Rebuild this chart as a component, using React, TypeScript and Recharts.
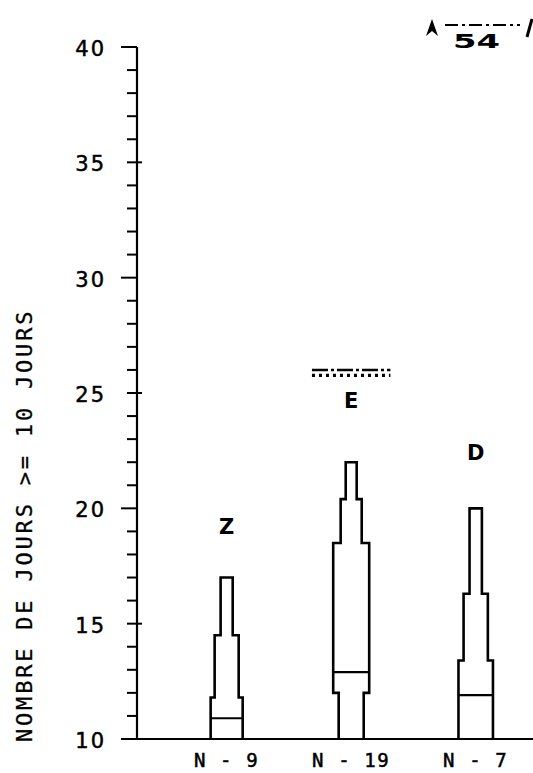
import React from 'react'
import { ComposedChart, Line, XAxis, YAxis, ReferenceLine, ReferenceDot } from 'recharts'

// groups shown along the bottom
const GROUPS = ['Z', 'E', 'D']
const GROUP_POS = [1, 2, 3]
const N_COUNTS = [9, 19, 7]

// step edges of each stepped box (days), from the axis floor up to the top
const Z_STEPS = [10, 11.8, 14.5, 17]
const E_STEPS = [10, 12, 18.5, 20.4, 22]
const D_STEPS = [10, 13.4, 16.3, 20]
const MEDIANS = [10.9, 12.9, 11.9]
const E_MARK = 26

const Y_TICKS = [10, 11, 12, 13, 14, 15, 16, 17, 18, 19, 20, 21, 22, 23, 24, 25,
    26, 27, 28, 29, 30, 31, 32, 33, 34, 35, 36, 37, 38, 39, 40]

// look: width of every step, in x-axis units
const Z_WIDTHS = [0.257, 0.193, 0.097]
const E_WIDTHS = [0.201, 0.289, 0.169, 0.088]
const D_WIDTHS = [0.277, 0.195, 0.099]
const MARK_WIDTH = 0.63
const LABEL_OFFSETS = [44, 54, 48]

const STEPS = [Z_STEPS, E_STEPS, D_STEPS]
const WIDTHS = [Z_WIDTHS, E_WIDTHS, D_WIDTHS]

const MONO = '"DejaVu Sans Mono", monospace'
const SANS = '"DejaVu Sans", sans-serif'

// outline of a stepped box: up the left side, across the top, down the right
const outline = (pos: number, steps: number[], widths: number[]) => {
    const left: { x: number, y: number }[] = []
    const right: { x: number, y: number }[] = []
    widths.forEach((w, i) => {
        left.push({ x: pos - w / 2, y: steps[i] }, { x: pos - w / 2, y: steps[i + 1] })
        right.unshift({ x: pos + w / 2, y: steps[i + 1] }, { x: pos + w / 2, y: steps[i] })
    })
    return [...left, ...right]
}

const medianWidth = (steps: number[], widths: number[], m: number) => {
    const i = steps.findIndex((s, k) => k < steps.length - 1 && m >= s && m < steps[k + 1])
    return widths[Math.max(i, 0)]
}

const YTick = (props: any) => {
    const { x, y, payload } = props
    const v = payload.value
    const major = v % 5 === 0
    const ten = v % 10 === 0
    return (
        <g>
            <line x1={ten ? x - 16 : x - 10} x2={major && !ten ? x + 5 : x} y1={y} y2={y} stroke="#000" strokeWidth={2} />
            {major && (
                <text x={x - 31} y={y + 2} textAnchor="end" dominantBaseline="central"
                    fontFamily={SANS} fontSize={21} letterSpacing={2} fill="#000"
                    stroke="#000" strokeWidth={0.5}>{v}</text>
            )}
        </g>
    )
}

const MarkShape = (props: any) => {
    const { x1, x2, y1 } = props
    return (
        <g>
            <line x1={x1} x2={x2} y1={y1} y2={y1} stroke="#000" strokeWidth={2.6} strokeDasharray="16 3 3 3" />
            <line x1={x1} x2={x2} y1={y1 + 5.5} y2={y1 + 5.5} stroke="#000" strokeWidth={3.2} strokeDasharray="3 4" />
        </g>
    )
}

const App = () => {
    return (
        <div style={{ position: 'absolute', left: 0, top: 0, width: 533, height: 773, background: '#fff' }}>
            <ComposedChart width={533} height={773} margin={{ top: 47, right: 0, bottom: 0, left: 0 }}>
                <XAxis type="number" dataKey="x" domain={[0.28, 3.46]} allowDataOverflow ticks={GROUP_POS}
                    tickFormatter={(v: number) => `N - ${N_COUNTS[GROUP_POS.indexOf(v)]}`}
                    height={34} tickLine={false} tickSize={0} tickMargin={15} interval={0}
                    axisLine={{ stroke: '#000', strokeWidth: 2.2 }}
                    tick={{ fill: '#000', stroke: '#000', strokeWidth: 0.5, fontSize: 19, fontFamily: MONO, letterSpacing: 1.6 }} />
                <YAxis type="number" domain={[10, 40]} ticks={Y_TICKS} interval={0} width={137}
                    tickLine={false} tickSize={0} tickMargin={0} tick={<YTick />}
                    axisLine={{ stroke: '#000', strokeWidth: 2.2 }} allowDataOverflow
                    label={{
                        content: (p: any) => {
                            const vb = p.viewBox
                            const x = vb.x + 32
                            const y = vb.y + vb.height + 3
                            return (
                                <text x={x} y={y} transform={`rotate(-90, ${x}, ${y})`} textAnchor="start"
                                    fontFamily={MONO} fontSize={22} letterSpacing={2.8} fill="#000"
                                    stroke="#000" strokeWidth={0.3}>
                                    NOMBRE DE JOURS &gt;= 10 JOURS
                                </text>
                            )
                        }
                    }} />
                {GROUPS.map((g, i) => (
                    <Line key={g} data={outline(GROUP_POS[i], STEPS[i], WIDTHS[i])} dataKey="y" type="linear"
                        stroke="#000" strokeWidth={2.6} dot={false} activeDot={false} isAnimationActive={false} />
                ))}
                {GROUPS.map((g, i) => {
                    const w = medianWidth(STEPS[i], WIDTHS[i], MEDIANS[i])
                    return (
                        <ReferenceLine key={`m-${g}`} stroke="#000" strokeWidth={2.2}
                            segment={[{ x: GROUP_POS[i] - w / 2, y: MEDIANS[i] }, { x: GROUP_POS[i] + w / 2, y: MEDIANS[i] }]} />
                    )
                })}
                <ReferenceLine segment={[{ x: GROUP_POS[1] - MARK_WIDTH / 2, y: E_MARK }, { x: GROUP_POS[1] + MARK_WIDTH / 2, y: E_MARK }]}
                    shape={<MarkShape />} />
                {GROUPS.map((g, i) => (
                    <ReferenceDot key={`l-${g}`} x={GROUP_POS[i]} y={STEPS[i][STEPS[i].length - 1]} r={0}
                        fill="none" stroke="none"
                        label={{
                            value: g, position: 'top', offset: LABEL_OFFSETS[i], fill: '#000',
                            fontSize: 21, fontWeight: 'bold', fontFamily: SANS
                        }} />
                ))}
            </ComposedChart>
            <svg width={533} height={60} style={{ position: 'absolute', left: 0, top: 0 }}>
                <polygon points="426,36 432,19 438,36 432,31" fill="#000" />
                <line x1={445} x2={520} y1={25} y2={25} stroke="#000" strokeWidth={2} strokeDasharray="13 4 3 4" />
                <line x1={527} x2={532} y1={37} y2={19} stroke="#000" strokeWidth={3} />
                <text x={453} y={48} textLength={47} lengthAdjust="spacingAndGlyphs" fontSize={20} fontWeight="bold"
                    fontFamily={SANS} fill="#000">54</text>
            </svg>
        </div>
    )
}

export default App
